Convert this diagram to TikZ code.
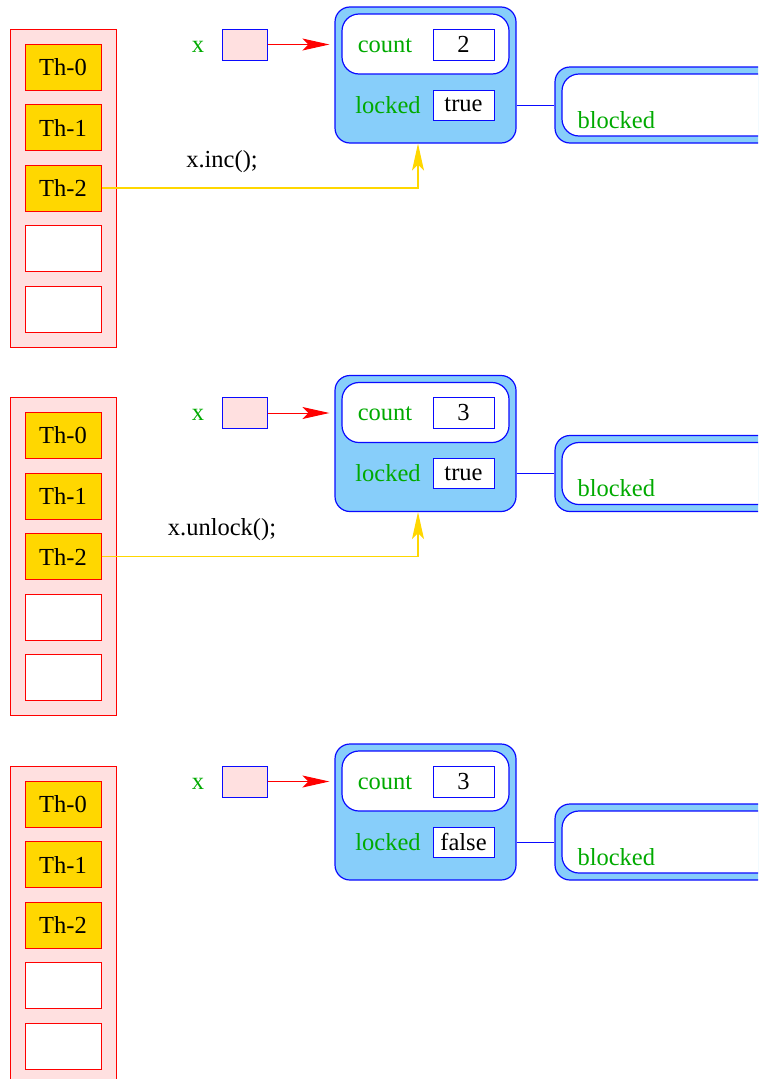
\documentclass[tikz,border=0pt]{standalone}
\usepackage{fontspec}
\setmainfont{Liberation Serif}
\usetikzlibrary{positioning, arrows.meta}
\definecolor{qpink}{RGB}{255,224,224}
\definecolor{thgold}{RGB}{255,215,0}
\definecolor{lockblue}{RGB}{135,206,250}
\definecolor{objblue}{RGB}{10,10,255}
\definecolor{fieldgreen}{RGB}{0,170,0}
\tikzset{
	queuebox/.style={draw=red, fill=qpink, line width=1pt, minimum width=106pt, minimum height=318pt}
}
\tikzset{
	slotbox/.style={draw=red, line width=1pt, minimum width=76pt, minimum height=46pt, inner sep=0pt}
}
\tikzset{
	lockbox/.style={draw=objblue, fill=lockblue, line width=1.2pt, rounded corners=15pt, inner sep=0pt},
	innerbox/.style={draw=objblue, fill=white, line width=1.2pt, rounded corners=17pt, inner sep=0pt},
	valbox/.style={draw=objblue, fill=white, line width=1pt, minimum width=61pt, minimum height=31pt, inner sep=0pt},
	fieldtext/.style={text=fieldgreen, anchor=base},
	calltext/.style={anchor=base}
}
\begin{document}
\begin{tikzpicture}[x=1pt, y=-1pt, font=\fontsize{24.5}{29}\selectfont]
  \useasboundingbox (0,0) rectangle (758,1079);
  \clip (0,0) rectangle (758,1079);
  \foreach \n/\dy/\cnt/\lk in {0/0/2/true, 1/368.5/3/true, 2/737/3/false}{
    \begin{scope}[shift={(0,\dy)}]
      % thread queue
      \node[queuebox] (q\n) at (63,188) {};
      \foreach \i/\lbl/\fc in {0/Th-0/thgold, 1/Th-1/thgold, 2/Th-2/thgold, 3//white, 4//white}
        \node[slotbox, fill=\fc] (t\n-\i) at (63,67+60.5*\i) {\lbl};
      % variable x
      \node[fieldtext] (xl\n) at (198,52) {x};
      \node[draw=objblue, fill=qpink, line width=1pt, minimum width=45pt, minimum height=31pt, inner sep=0pt] (ptr\n) at (244.5,44.5) {};
      % lock object
      \node[lockbox, minimum width=181pt, minimum height=136pt] (lock\n) at (425.5,75) {};
      \node[innerbox, minimum width=167pt, minimum height=60pt] (in\n) at (425.5,44) {};
      \node[fieldtext] (cl\n) at (385,52) {count};
      \node[valbox] (cv\n) at (463.5,44.5) {\cnt};
      \node[fieldtext] (ll\n) at (388,113) {locked};
      \node[valbox, minimum height=30pt] (lv\n) at (463.5,105) {\lk};
      % blocked queue
      \node[lockbox, minimum width=240pt, minimum height=76pt] (blk\n) at (675,105) {};
      \node[innerbox, minimum width=226pt, minimum height=62pt] (bin\n) at (675,105) {};
      \node[fieldtext, anchor=base west] (bl\n) at (574,128) {blocked};
      \draw[objblue, line width=1pt] (lv\n.east -| lock\n.east) -- (lv\n.east -| blk\n.west);
      \draw[red, line width=1pt, -{Stealth[length=27pt, width=12pt, inset=6pt]}, shorten >=5pt]
        (ptr\n.east) -- (ptr\n.east -| lock\n.west);
    \end{scope}
  }
  % method calls
  \node[calltext] (call0) at (222,167) {x.inc();};
  \node[calltext] (call1) at (222,535.5) {x.unlock();};
  \foreach \n in {0,1}
    \draw[thgold, line width=1.2pt, -{Stealth[length=27pt, width=12pt, inset=6pt]}]
      (t\n-2.east) -| ([xshift=-7.5pt]lock\n.south);
\end{tikzpicture}
\end{document}
